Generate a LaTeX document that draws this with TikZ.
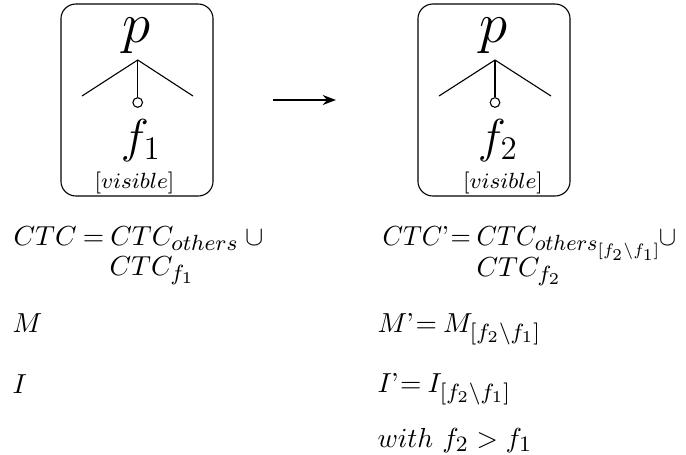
\documentclass[tikz,border=0pt]{standalone}
\usetikzlibrary{arrows.meta}
\DeclareMathSizes{10}{10}{8}{6}
\newcommand\apos{\mkern-0.5mu\mbox{'}\mkern-3mu}
\newcommand\eqq{\mkern-1mu=\mkern-1mu}
\begin{document}
\begin{tikzpicture}[x=0.3636pt,y=-0.3636pt,
  boxnode/.style={draw,rounded corners=5.4pt,minimum width=55.3pt,minimum height=69.8pt,inner sep=0pt},
  bigp/.style={font=\huge,inner sep=0pt,anchor=base},
  bigf/.style={font=\LARGE,inner sep=0pt,anchor=base},
  vis/.style={font=\fontsize{7.6}{9}\selectfont,inner sep=0pt,anchor=base},
  txt/.style={inner sep=0pt,anchor=base west},
  knob/.style={circle,draw,fill=white,inner sep=0pt,minimum size=3.5pt}]
\useasboundingbox (0,0) rectangle (686,454);
% left box
\node[boxnode] (LB) at (137,100) {};
\node[bigp] (Lp) at (137,42) {$p$};
\coordinate (La) at (137.7,60);
\coordinate (Ll) at (82,96);
\coordinate (Lr) at (193,96);
\node[knob] (Lc) at (137.7,102.5) {};
\draw (Ll) -- (La) -- (Lr);
\draw (La) -- (Lc);
\node[bigf] (Lf) at (141,152) {$f_1$};
\node[vis] (Lv) at (134.5,188) {$[visible]$};
% right box
\node[boxnode] (RB) at (494,100) {};
\node[bigp] (Rp) at (494,42) {$p$};
\coordinate (Ra) at (495,60);
\coordinate (Rl) at (439,96);
\coordinate (Rr) at (551,96);
\node[knob] (Rc) at (495,102.5) {};
\draw (Rl) -- (Ra) -- (Rr);
\draw (Ra) -- (Rc);
\node[bigf] (Rf) at (498,152) {$f_2$};
\node[vis] (Rv) at (503,188) {$[visible]$};
% arrow
\coordinate (A1) at (273,100);
\coordinate (A2) at (336,100);
\draw[line width=0.75pt,-{Stealth[length=4.8pt,width=3.6pt]}] (A1) -- (A2);
% left texts
\node[txt] (t1) at (13,245) {$CTC \eqq CTC_{others}\:\cup$};
\node[txt] (t2) at (109,275) {$CTC_{f_1}$};
\node[txt] (t3) at (12,332) {$M$};
\node[txt] (t4) at (12,393) {$I$};
% right texts
\node[txt] (r1) at (382,245) {\scalebox{0.95}[1]{$CTC\apos \eqq CTC_{others_{[f_2\backslash f_1]}}\mkern-2mu\cup$}};
\node[txt] (r2) at (476,276) {$CTC_{f_2}$};
\node[txt] (r3) at (377,332) {$M\apos \eqq M_{[f_2\backslash f_1]}$};
\node[txt] (r4) at (377,392) {$I\apos \eqq I_{[f_2\backslash f_1]}$};
\node[txt] (r5) at (377,447) {$with\ f_2 > f_1$};
\end{tikzpicture}
\end{document}
